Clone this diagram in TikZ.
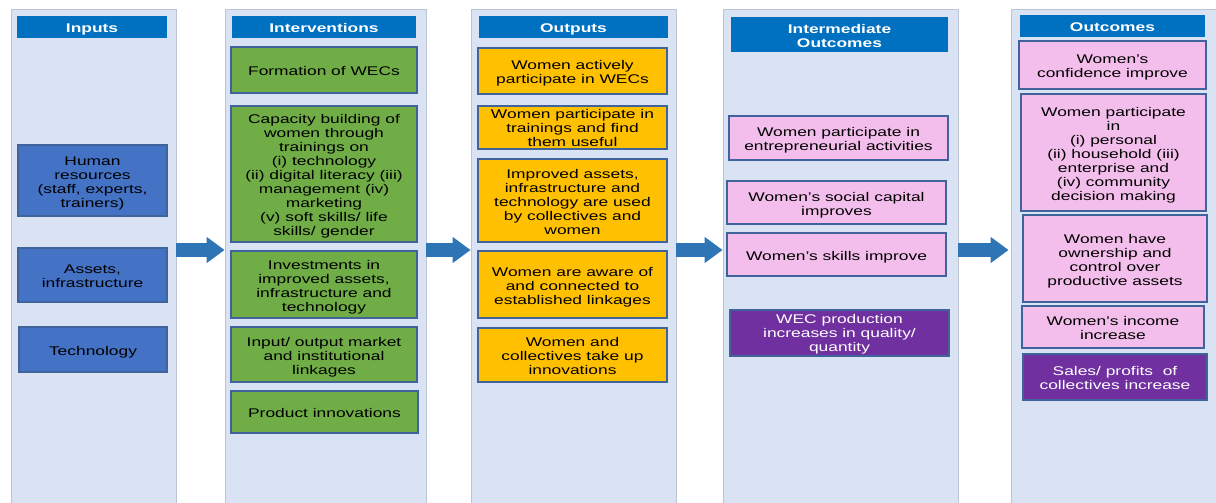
\documentclass[tikz,border=0pt]{standalone}
\usepackage{fontspec}
\setmainfont{Liberation Sans}[FakeStretch=1.38]
\usetikzlibrary{arrows.meta}

\definecolor{panelfill}{HTML}{DAE3F3}
\definecolor{panelline}{HTML}{BCC4D2}
\definecolor{headblue}{HTML}{0070C0}
\definecolor{inblue}{HTML}{4472C4}
\definecolor{ingreen}{HTML}{70AD47}
\definecolor{outorange}{HTML}{FFC000}
\definecolor{pinkbox}{HTML}{F4BEEC}
\definecolor{purplebox}{HTML}{7030A0}
\definecolor{boxline}{HTML}{41639C}
\definecolor{arrowblue}{HTML}{2E75B6}

% struts that fix the height of the first line and the depth of the last one
\newcommand\tstr{\rule{0pt}{14pt}}
\newcommand\tstrs{\rule{0pt}{12pt}}
\newcommand\bstr{\rule[-2.5pt]{0pt}{2.5pt}}

\begin{document}
\begin{tikzpicture}[x=1pt,y=-1pt,
  font=\fontsize{12.6}{14}\selectfont,
  sz/.style 2 args={minimum width=#1pt, minimum height=#2pt},
  panel/.style={draw=panelline, line width=0.8pt, fill=panelfill, inner sep=0pt},
  head/.style={fill=headblue, text=white, align=center, inner sep=0pt,
    font=\fontsize{12.6}{14}\selectfont\bfseries},
  box/.style={draw=boxline, line width=1.2pt, inner sep=0pt, align=center, text=black},
  bluebox/.style={box, fill=inblue},
  greenbox/.style={box, fill=ingreen},
  orangebox/.style={box, fill=outorange},
  pinkb/.style={box, fill=pinkbox},
  purpleb/.style={box, fill=purplebox, text=white},
  flow/.style={draw=arrowblue, line width=14pt,
    -{Triangle[length=18pt, width=25pt, fill=arrowblue]}}
]
\useasboundingbox (0,0) rectangle (1216,503);

% column panels
\node[panel, sz={165}{497}] (p1) at (93.5,257.5) {};
\node[panel, sz={201}{497}] (p2) at (325.5,257.5) {};
\node[panel, sz={205}{497}] (p3) at (573.5,257.5) {};
\node[panel, sz={235}{497}] (p4) at (840.5,257.5) {};
\node[panel, sz={205}{497}] (p5) at (1113.5,257.5) {};

% column headers
\node[head, sz={150}{22}] (h1) at (92,27) {\tstr Inputs\bstr};
\node[head, sz={184}{22}] (h2) at (324,27) {\tstr Interventions\bstr};
\node[head, sz={189}{22}] (h3) at (573.5,27) {\tstr Outputs\bstr};
\node[head, sz={217}{35}] (h4) at (839.5,34.5) {\tstr Intermediate\\Outcomes\bstr};
\node[head, sz={185}{22}] (h5) at (1112.5,26) {\tstr Outcomes\bstr};

% inputs
\node[bluebox, sz={149}{71}] (i1) at (92.5,180.5) {\tstr Human\\resources\\(staff, experts,\\trainers)\bstr};
\node[bluebox, sz={149}{54}] (i2) at (92.5,275) {\tstr Assets,\\infrastructure\bstr};
\node[bluebox, sz={148}{45}] (i3) at (93,349.5) {\tstr Technology\bstr};

% interventions
\node[greenbox, sz={186}{46}] (v1) at (324,70) {\tstr Formation of WECs\bstr};
\node[greenbox, sz={186}{136}] (v2) at (324,174) {\tstr Capacity building of\\women through\\trainings on\\(i) technology\\(ii) digital literacy (iii)\\management (iv)\\marketing\\(v) soft skills/ life\\skills/ gender\bstr};
\node[greenbox, sz={186}{67}] (v3) at (324,284.5) {\tstr Investments in\\improved assets,\\infrastructure and\\technology\bstr};
\node[greenbox, sz={186}{55}] (v4) at (324,354.5) {\tstr Input/ output market\\and institutional\\linkages\bstr};
\node[greenbox, sz={187}{42}] (v5) at (324.5,412) {\tstr Product innovations\bstr};

% outputs
\node[orangebox, sz={189}{46}] (o1) at (572.5,71) {\tstr Women actively\\participate in WECs\bstr};
\node[orangebox, sz={189}{43}] (o2) at (572.5,127.5) {\tstrs Women participate in\\trainings and find\\them useful\bstr};
\node[orangebox, sz={189}{83}] (o3) at (572.5,200.5) {\tstr Improved assets,\\infrastructure and\\technology are used\\by collectives and\\women\bstr};
\node[orangebox, sz={189}{67}] (o4) at (572.5,284.5) {\tstr Women are aware of\\and connected to\\established linkages\bstr};
\node[orangebox, sz={189}{54}] (o5) at (572.5,355) {\tstr Women and\\collectives take up\\innovations\bstr};

% intermediate outcomes
\node[pinkb, sz={219}{44}] (m1) at (838.5,138) {\tstr Women participate in\\entrepreneurial activities\bstr};
\node[pinkb, sz={219}{43}] (m2) at (836.5,202.5) {\tstr Women’s social capital\\improves\bstr};
\node[pinkb, sz={219}{43}] (m3) at (836.5,254.5) {\tstr Women’s skills improve\bstr};
\node[purpleb, sz={219}{46}] (m4) at (839.5,333) {\tstrs WEC production\\increases in quality/\\quantity\bstr};

% outcomes
\node[pinkb, sz={187}{48}] (c1) at (1112.5,65) {\tstr Women’s\\confidence improve\bstr};
\node[pinkb, sz={185}{117}] (c2) at (1113.5,152.5) {\tstr Women participate\\in\\(i) personal\\(ii) household (iii)\\enterprise and\\(iv) community\\decision making\bstr};
\node[pinkb, sz={184}{87}] (c3) at (1115,258.5) {\tstr Women have\\ownership and\\control over\\productive assets\bstr};
\node[pinkb, sz={182}{42}] (c4) at (1113,327) {\tstr Women’s income\\increase\bstr};
\node[purpleb, sz={184}{46}] (c5) at (1115,377) {\tstr Sales/ profits\ \ of\\collectives increase\bstr};

% flow arrows between columns
\coordinate (ay) at (0,250);
\draw[flow] (p1.east |- ay) -- (p2.west |- ay);
\draw[flow] (p2.east |- ay) -- (p3.west |- ay);
\draw[flow] (p3.east |- ay) -- (p4.west |- ay);
\draw[flow] (p4.east |- ay) -- ([xshift=-2pt]p5.west |- ay);
\end{tikzpicture}
\end{document}
